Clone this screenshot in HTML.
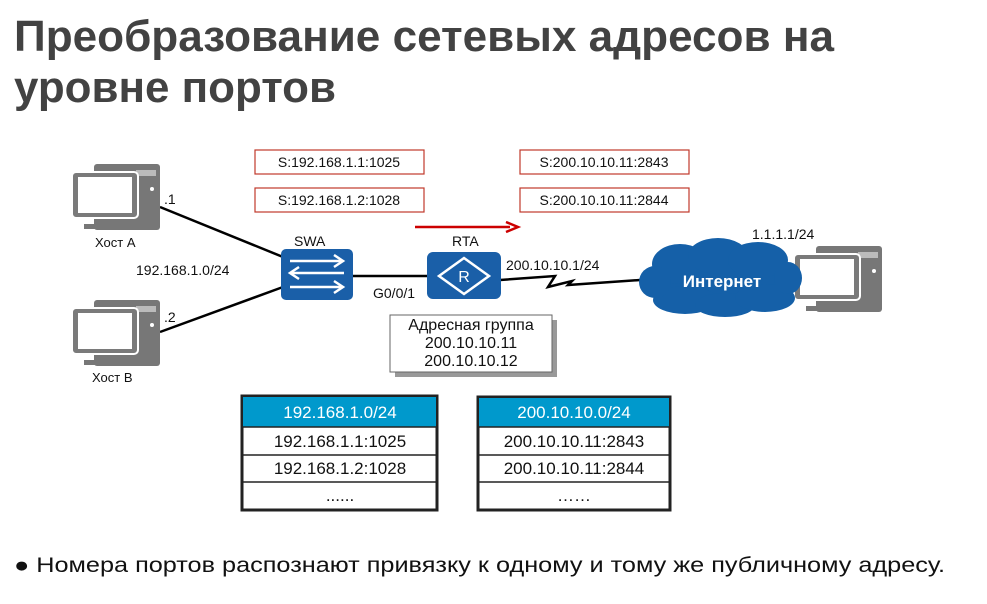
<!DOCTYPE html>
<html><head><meta charset="utf-8"><style>
html,body{margin:0;padding:0;background:#fff;}
svg{display:block;font-family:"Liberation Sans",sans-serif;}
</style></head><body>
<svg width="987" height="604" viewBox="0 0 987 604" xmlns="http://www.w3.org/2000/svg">
<g fill="#424242" font-weight="bold" font-size="44">
<text x="14" y="51" textLength="820" lengthAdjust="spacingAndGlyphs">Преобразование сетевых адресов на</text>
<text x="14" y="102" textLength="322" lengthAdjust="spacingAndGlyphs">уровне портов</text>
</g>
<g fill="#fff" stroke="#c0392b" stroke-width="1.2">
<rect x="255" y="150" width="169" height="24"/>
<rect x="255" y="188" width="169" height="24"/>
<rect x="520" y="150" width="169" height="24"/>
<rect x="520" y="188" width="169" height="24"/>
</g>
<g font-size="14" fill="#111" text-anchor="middle">
<text x="339" y="167">S:192.168.1.1:1025</text>
<text x="339" y="205">S:192.168.1.2:1028</text>
<text x="604" y="167">S:200.10.10.11:2843</text>
<text x="604" y="205">S:200.10.10.11:2844</text>
</g>
<line x1="415" y1="227" x2="510" y2="227" stroke="#c00" stroke-width="2.5"/>
<path d="M506 222 L518 227 L506 232" fill="none" stroke="#c00" stroke-width="2.5"/>
<g stroke="#000" stroke-width="2.5" fill="none">
<line x1="160" y1="207" x2="283" y2="257"/>
<line x1="160" y1="332" x2="283" y2="287"/>
<line x1="352" y1="276" x2="428" y2="276"/>
<path d="M500 280 L555 276 L548 287 L572 281 L568 285 L640 280"/>
</g>
<defs>
<g id="pc">
<rect x="22" y="0" width="66" height="66" rx="3" fill="#777"/>
<rect x="64" y="6" width="20" height="6" fill="#fff" opacity="0.5"/>
<circle cx="80" cy="25" r="2" fill="#fff"/>
<rect x="0" y="8" width="66" height="46" rx="4" fill="#7a7a7a" stroke="#fff" stroke-width="2"/>
<rect x="6" y="13" width="54" height="36" fill="#fff"/>
<rect x="24" y="55" width="18" height="6" fill="#777"/>
<rect x="12" y="60" width="42" height="5" fill="#777"/>
</g>
</defs>
<use href="#pc" x="72" y="164"/>
<use href="#pc" x="72" y="300"/>
<use href="#pc" x="794" y="246"/>
<g font-size="13" fill="#111">
<text x="95" y="247">Хост А</text>
<text x="92" y="382">Хост В</text>
<text x="164" y="204" font-size="14">.1</text>
<text x="164" y="322" font-size="14">.2</text>
<text x="136" y="275" font-size="14">192.168.1.0/24</text>
<text x="294" y="246" font-size="14">SWA</text>
<text x="452" y="246" font-size="14">RTA</text>
<text x="373" y="298" font-size="14">G0/0/1</text>
<text x="506" y="270" font-size="14">200.10.10.1/24</text>
<text x="752" y="239" font-size="14">1.1.1.1/24</text>
</g>
<rect x="281" y="249" width="72" height="51" rx="5" fill="#1a5fa8"/>
<g stroke="#fff" stroke-width="2.5" fill="none">
<line x1="290" y1="261" x2="342" y2="261"/><path d="M334 255 L343 261 L334 267"/>
<line x1="290" y1="273" x2="344" y2="273"/><path d="M299 267 L290 273 L299 279"/>
<line x1="290" y1="287" x2="342" y2="287"/><path d="M334 281 L343 287 L334 293"/>
</g>
<rect x="427" y="252" width="74" height="47" rx="6" fill="#1a5fa8"/>
<path d="M464 258 L489 276 L464 294 L439 276 Z" fill="none" stroke="#fff" stroke-width="2.5"/>
<text x="464" y="282" fill="#fff" font-size="16" text-anchor="middle">R</text>
<g fill="#1560a8">
<ellipse cx="720" cy="280" rx="76" ry="26"/>
<ellipse cx="680" cy="264" rx="28" ry="20"/>
<ellipse cx="718" cy="256" rx="30" ry="18"/>
<ellipse cx="758" cy="260" rx="30" ry="18"/>
<ellipse cx="685" cy="300" rx="32" ry="14"/>
<ellipse cx="725" cy="305" rx="30" ry="12"/>
<ellipse cx="765" cy="298" rx="30" ry="14"/>
<ellipse cx="655" cy="282" rx="16" ry="16"/>
<ellipse cx="788" cy="278" rx="14" ry="16"/>
</g>
<text x="722" y="287" fill="#fff" font-size="17" font-weight="bold" text-anchor="middle">Интернет</text>
<rect x="395" y="320" width="162" height="57" fill="#999"/>
<rect x="390" y="315" width="162" height="57" fill="#fff" stroke="#666" stroke-width="1"/>
<g font-size="16" fill="#111" text-anchor="middle">
<text x="471" y="330">Адресная группа</text>
<text x="471" y="348">200.10.10.11</text>
<text x="471" y="366">200.10.10.12</text>
</g>
<g stroke="#222" stroke-width="1.5" fill="#fff">
<rect x="242" y="396" width="195" height="114" stroke-width="3"/>
<rect x="478" y="397" width="192" height="113" stroke-width="3"/>
</g>
<rect x="243" y="397" width="193" height="30" fill="#0099cc"/>
<rect x="479" y="398" width="190" height="29" fill="#0099cc"/>
<g stroke="#222" stroke-width="1.5">
<line x1="242" y1="427" x2="437" y2="427"/><line x1="242" y1="455" x2="437" y2="455"/><line x1="242" y1="482" x2="437" y2="482"/>
<line x1="478" y1="427" x2="670" y2="427"/><line x1="478" y1="455" x2="670" y2="455"/><line x1="478" y1="482" x2="670" y2="482"/>
</g>
<g font-size="17" text-anchor="middle" fill="#111">
<text x="340" y="418" fill="#fff">192.168.1.0/24</text>
<text x="340" y="447">192.168.1.1:1025</text>
<text x="340" y="474">192.168.1.2:1028</text>
<text x="340" y="501">......</text>
<text x="574" y="418" fill="#fff">200.10.10.0/24</text>
<text x="574" y="447">200.10.10.11:2843</text>
<text x="574" y="474">200.10.10.11:2844</text>
<text x="574" y="501">……</text>
</g>
<text x="14" y="572" font-size="21" fill="#111" textLength="931" lengthAdjust="spacingAndGlyphs">● Номера портов распознают привязку к одному и тому же публичному адресу.</text>
</svg>
</body></html>
